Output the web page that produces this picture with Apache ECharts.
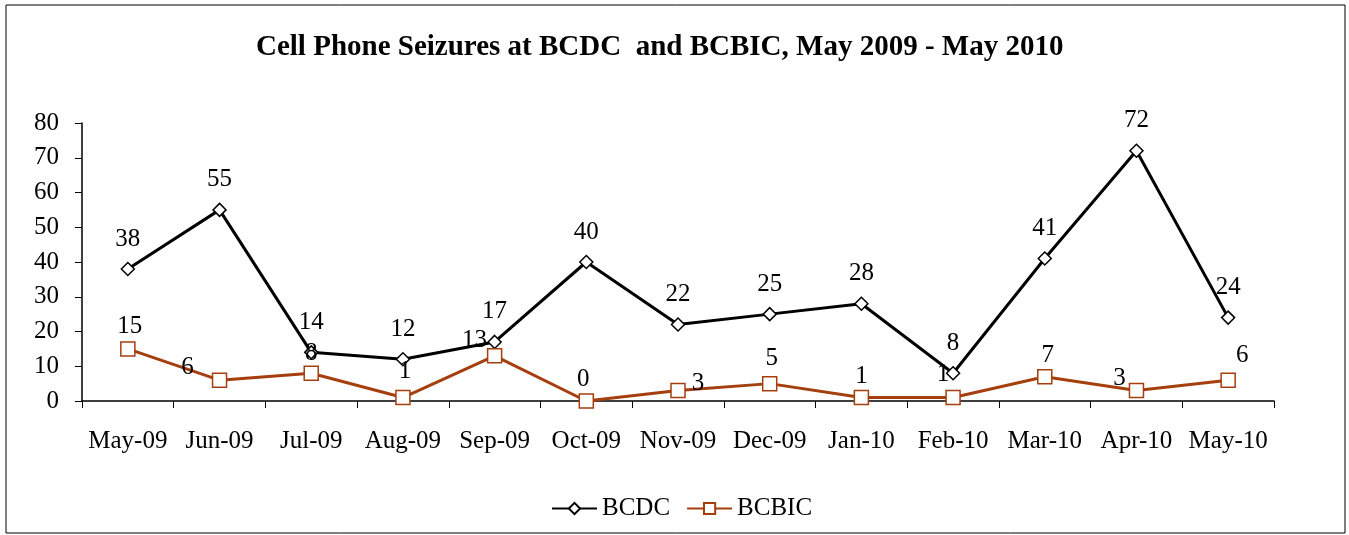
<!DOCTYPE html>
<html><head><meta charset="utf-8">
<script src="https://cdn.jsdelivr.net/npm/echarts@6/dist/echarts.min.js"></script>
<style>html,body{margin:0;padding:0;background:#fff}#c{width:1349px;height:535px}</style>
</head><body><div id="c"></div>
<script>
const categories = ['May-09','Jun-09','Jul-09','Aug-09','Sep-09','Oct-09','Nov-09','Dec-09','Jan-10','Feb-10','Mar-10','Apr-10','May-10'];
const bcdc = [38,55,14,12,17,40,22,25,28,8,41,72,24];
const bcbic = [15,6,8,1,13,0,3,5,1,1,7,3,6];
// label offsets (px) from each point's centre
const bcdcLabelOff = [[0,-30],[0,-30],[0,-30],[0,-30],[0,-30],[0,-30],[0,-30],[0,-30],[0,-30],[0,-30],[0,-30],[0,-30],[0,-30]];
const bcbicLabelOff = [[2,-22],[-32,-13],[0,-20],[2,-26],[-20,-15],[-3,-22],[20,-7],[2,-25],[0,-21],[-10,-23],[3,-21],[-17,-12],[14,-25]];

const font = '"Liberation Serif", "Times New Roman", serif';
const chart = echarts.init(document.getElementById('c'));
function mk(vals, off){
  return vals.map((v,i)=>({value:v,label:{offset:off[i]}}));
}
chart.setOption({
  animation:false,
  textStyle:{fontFamily:font},
  title:{text:'Cell Phone Seizures at BCDC  and BCBIC, May 2009 - May 2010',left:251,top:28,
    textStyle:{fontFamily:font,fontWeight:'bold',fontSize:29,color:'#000'}},
  graphic:[{type:'rect',shape:{x:6,y:5,width:1339,height:528},style:{fill:'none',stroke:'#000',lineWidth:1}}],
  legend:{bottom:9,left:546,itemWidth:45,itemHeight:14,itemGap:16,
    textStyle:{fontFamily:font,fontSize:25,color:'#000'},data:['BCDC','BCBIC']},
  grid:{left:82,right:75,top:123,bottom:134,containLabel:false},
  xAxis:{type:'category',data:categories,boundaryGap:true,
    axisLine:{lineStyle:{color:'#000',width:1.5}},
    axisTick:{show:true,length:7,lineStyle:{color:'#000'},alignWithLabel:false},
    axisLabel:{color:'#000',fontFamily:font,fontSize:25,margin:28,interval:0}},
  yAxis:{type:'value',min:0,max:80,interval:10,
    axisLine:{show:true,lineStyle:{color:'#000',width:1.5}},
    axisTick:{show:true,length:7,lineStyle:{color:'#000'}},
    splitLine:{show:false},
    axisLabel:{color:'#000',fontFamily:font,fontSize:25,margin:23}},
  series:[
    {name:'BCDC',type:'line',data:mk(bcdc,bcdcLabelOff),symbol:'diamond',symbolSize:13,
     lineStyle:{color:'#000',width:3},itemStyle:{color:'#fff',borderColor:'#000',borderWidth:1.5},
     label:{show:true,position:'inside',color:'#000',fontFamily:font,fontSize:25}},
    {name:'BCBIC',type:'line',data:mk(bcbic,bcbicLabelOff),symbol:'rect',symbolSize:14,
     lineStyle:{color:'#a53f0e',width:3},itemStyle:{color:'#fff',borderColor:'#a53f0e',borderWidth:1.5},
     label:{show:true,position:'inside',color:'#000',fontFamily:font,fontSize:25}}
  ]
});
</script></body></html>
